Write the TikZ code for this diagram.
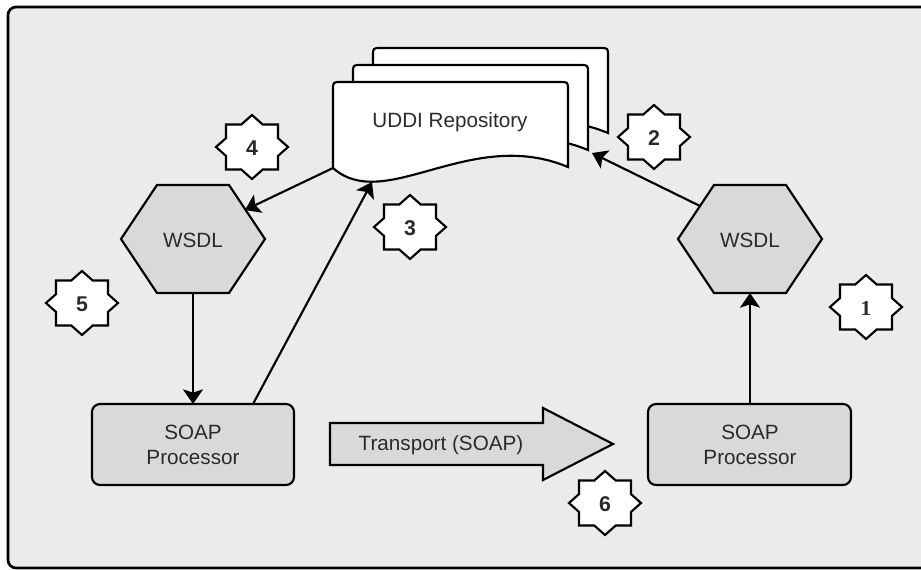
\documentclass[tikz,border=0pt]{standalone}
\usepackage{fontspec}
\setmainfont{Liberation Sans}
\newfontfamily\serifnum{Liberation Serif}
\usetikzlibrary{arrows.meta}
\definecolor{bgc}{HTML}{EBEBEB}
\definecolor{boxc}{HTML}{D9D9D9}
\definecolor{txt}{HTML}{2A2A2A}
\tikzset{
  ln/.style={line width=1.6pt, draw=black},
  conn/.style={line width=1.6pt, -{Stealth[length=11pt,width=15pt,inset=2.5pt]}},
  lbl/.style={text=txt, font=\fontsize{15.5}{19}\selectfont, inner sep=0pt},
  badgetext/.style={inner sep=0pt, font=\fontsize{16}{18}\selectfont\bfseries, text=txt},
  starline/.style={line width=1.6pt, draw=black, fill=white, line join=miter},
  soapbox/.style={ln, fill=boxc, rounded corners=6pt},
}
\newcommand\mybadge[4]{% name, x, y, text
  \begin{scope}[shift={(#2,#3)}]
  \draw[starline] (0,-32) -- (10.7,-22.5) -- (26,-22.5) -- (26,-8.9) -- (36,0) -- (26,8.9) -- (26,22.5)
     -- (10.7,22.5) -- (0,32) -- (-10.7,22.5) -- (-26,22.5) -- (-26,8.9) -- (-36,0) -- (-26,-8.9)
     -- (-26,-22.5) -- (-10.7,-22.5) -- cycle;
  \node[badgetext] (#1) at (0,1) {#4};
  \end{scope}}
\begin{document}
\begin{tikzpicture}[x=0.75pt,y=-0.75pt]
\useasboundingbox (0,0) rectangle (921,569);
% frame
\draw[line width=2pt, fill=bgc, rounded corners=6pt] (8,7) rectangle (945,568);

% UDDI stack
\foreach \dx/\dy in {40/-34,20/-17,0/0}{
  \begin{scope}[shift={(\dx,\dy)}]
  \draw[ln, fill=white] (333,168) -- (333,90) .. controls (333,82) .. (341,82) -- (560,82)
     .. controls (568,82) .. (568,90) -- (568,167)
     .. controls (470,126) and (385,214) .. (333,168) -- cycle;
  \end{scope}
}
\node[lbl] (uddi) at (450,122) {UDDI Repository};
\coordinate (uddiL) at (333,168);
\coordinate (uddiB) at (372,182);
\coordinate (uddiR) at (592,153);

% hexagons
\draw[ln, fill=boxc] (121,239) -- (157,185) -- (229,185) -- (265,239) -- (229,293) -- (157,293) -- cycle;
\node[lbl] (wsdlL) at (193,240) {WSDL};
\coordinate (wsdlLtop) at (245,210);
\coordinate (wsdlLbot) at (193,293);
\draw[ln, fill=boxc] (678,239) -- (714,185) -- (786,185) -- (822,239) -- (786,293) -- (714,293) -- cycle;
\node[lbl] (wsdlR) at (750,240) {WSDL};
\coordinate (wsdlRtop) at (700,206);
\coordinate (wsdlRbot) at (750,293);

% SOAP boxes
\draw[soapbox] (92,404) rectangle (294,485);
\node[lbl, align=center, font=\fontsize{15.5}{19}\selectfont] (soapL) at (193,445) {SOAP\\Processor};
\coordinate (soapLtop) at (193,404);
\coordinate (soapLdiag) at (253,404);
\draw[soapbox] (648,404) rectangle (851,485);
\node[lbl, align=center, font=\fontsize{15.5}{19}\selectfont] (soapR) at (750,445) {SOAP\\Processor};
\coordinate (soapRtop) at (750,404);

% transport arrow
\draw[ln, fill=boxc] (330,423) -- (543,423) -- (543,408) -- (613,444) -- (543,480) -- (543,465) -- (330,465) -- cycle;
\node[lbl] (transport) at (441,445) {Transport (SOAP)};

% connectors
\draw[conn] (uddiL) -- (wsdlLtop);
\draw[conn] (wsdlLbot) -- (soapLtop);
\draw[conn] (soapLdiag) -- (uddiB);
\draw[conn] (soapRtop) -- (wsdlRbot);
\draw[conn] (wsdlRtop) -- (uddiR);

% badges
\mybadge{b1}{866}{307}{\serifnum\bfseries 1}
\mybadge{b2}{654}{137}{2}
\mybadge{b3}{410}{227}{3}
\mybadge{b4}{252}{147}{4}
\mybadge{b5}{82}{303}{5}
\mybadge{b6}{605}{503}{6}
\end{tikzpicture}
\end{document}
